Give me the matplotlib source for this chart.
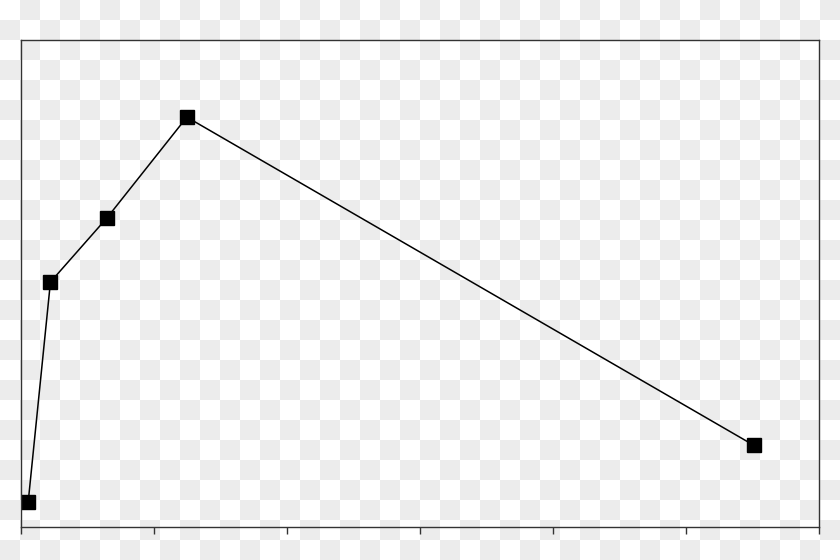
import numpy as np
import matplotlib
matplotlib.use("Agg")
import matplotlib.pyplot as plt

# dados (x em horas, y em unidades relativas)
tempo = [0.23, 0.9, 2.6, 5.0, 22.05]
valor = [5.0, 50.3, 63.5, 84.2, 16.7]
xticks = [0, 4, 8, 12, 16, 20, 24]

fig = plt.figure(figsize=(8.4, 5.6), dpi=100)

# fundo quadriculado (tipo png transparente)
bg = fig.add_axes([0, 0, 1, 1])
ii, jj = np.indices((28, 42))
xadrez = (ii + jj) % 2
bg.imshow(xadrez, cmap=matplotlib.colors.ListedColormap(["#ffffff", "#ececec"]),
          interpolation="nearest", aspect="auto", extent=(0, 840, 560, 0))
bg.set_axis_off()

ax = fig.add_axes([20.5 / 840, 33.3 / 560, (819 - 20.5) / 840, (526.7 - 40.3) / 560])
ax.patch.set_alpha(0)
ax.plot(tempo, valor, "k-", linewidth=1.1, marker="s", markersize=10,
        markerfacecolor="black", markeredgecolor="black", markeredgewidth=1)
ax.set_xlim(0, 24)
ax.set_ylim(0, 100)
ax.set_xticks(xticks)
ax.set_xticklabels([])
ax.set_yticks([])
ax.tick_params(axis="x", direction="out", length=5, width=1, color="#333333")
for s in ax.spines.values():
    s.set_color("#333333")
    s.set_linewidth(1)

plt.savefig("out.png", dpi=100)
